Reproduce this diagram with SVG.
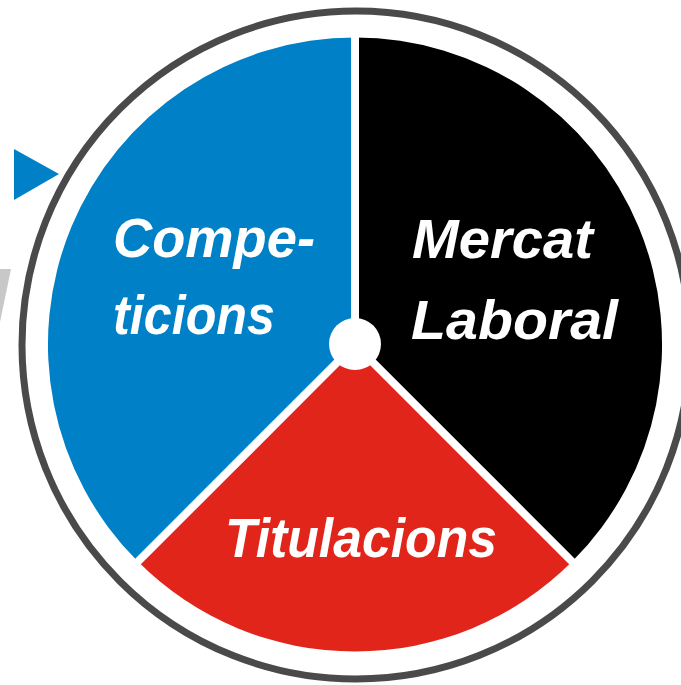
<svg xmlns="http://www.w3.org/2000/svg" width="681" height="685" viewBox="0 0 681 685">
<style>
.lbl{font-family:"Liberation Sans","DejaVu Sans",sans-serif;font-weight:bold;font-style:italic;fill:#fff;font-size:55px}
.sep{stroke:#fff;stroke-width:8;fill:none}
</style>
<rect width="681" height="685" fill="#fff"/>
<polygon points="0,269 11,269 0,322" fill="#c8c8c8"/>
<polygon id="pointer" points="14,149 14,200 59,174" fill="#0080c6"/>
<circle id="ring" cx="356" cy="345" r="334" fill="none" stroke="#4a4a4a" stroke-width="7"/>
<g id="competicions">
<path d="M355,344.5 L355,37.5 A307,307 0 0 0 137.9,561.6 Z" fill="#0080c6"/>
<text class="lbl" x="113" y="257" textLength="202" lengthAdjust="spacingAndGlyphs">Compe-</text>
<text class="lbl" x="113" y="334" textLength="162" lengthAdjust="spacingAndGlyphs">ticions</text>
</g>
<g id="mercat-laboral">
<path d="M355,344.5 L355,37.5 A307,307 0 0 1 572.1,561.6 Z" fill="#000"/>
<text class="lbl" x="412" y="258" textLength="181" lengthAdjust="spacingAndGlyphs">Mercat</text>
<text class="lbl" x="411" y="339" textLength="207" lengthAdjust="spacingAndGlyphs">Laboral</text>
</g>
<g id="titulacions">
<path d="M355,344.5 L137.9,561.6 A307,307 0 0 0 572.1,561.6 Z" fill="#e1251b"/>
<text class="lbl" x="225" y="557" textLength="272" lengthAdjust="spacingAndGlyphs">Titulacions</text>
</g>
<g id="connectors">
<line class="sep" x1="355" y1="344.5" x2="355" y2="30"/>
<line class="sep" x1="355" y1="344.5" x2="130" y2="569.5"/>
<line class="sep" x1="355" y1="344.5" x2="580" y2="569.5"/>
</g>
<circle id="hub" cx="355" cy="344" r="26" fill="#fff"/>
</svg>
